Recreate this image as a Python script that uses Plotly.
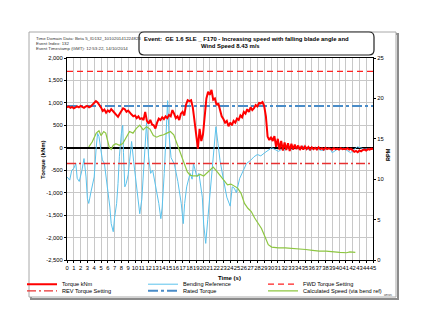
import plotly.graph_objects as go

# ---------------- data ----------------
torque_t = [0.0,0.25,0.5,0.75,1.0,1.25,1.5,1.75,2.0,2.25,2.5,2.75,3.0,3.25,3.5,3.75,4.0,4.25,4.5,4.75,
            5.0,5.25,5.5,5.75,6.0,6.25,6.5,6.75,7.0,7.25,7.5,7.75,8.0,8.25,8.5,8.75,9.0,9.25,9.5,9.75,
            10.0,10.25,10.5,10.75,11.0,11.25,11.5,11.75,12.0,12.25,12.5,12.75,13.0,13.25,13.5,13.75,14.0,14.25,14.5,14.75,
            15.0,15.25,15.5,15.75,16.0,16.25,16.5,16.75,17.0,17.25,17.5,17.75,18.0,18.25,18.5,18.75,19.0,19.25,19.5,19.75,
            20.0,20.25,20.5,20.75,21.0,21.25,21.5,21.75,22.0,22.25,22.5,22.75,23.0,23.25,23.5,23.75,24.0,24.25,24.5,24.75,
            25.0,25.25,25.5,25.75,26.0,26.25,26.5,26.75,27.0,27.25,27.5,27.75,28.0,28.25,28.5,28.75,29.0,29.25,29.5,29.75,
            30.0,30.25,30.5,30.75,31.0,31.25,31.5,31.75,32.0,32.25,32.5,32.75,33.0,33.25,33.5,33.75,34.0,34.25,34.5,34.75,
            35.0,35.25,35.5,35.75,36.0,36.25,36.5,36.75,37.0,37.25,37.5,37.75,38.0,38.25,38.5,38.75,39.0,39.25,39.5,39.75,
            40.0,40.25,40.5,40.75,41.0,41.25,41.5,41.75,42.0,42.25,42.5,42.75,43.0,43.25,43.5,43.75,44.0,44.25,44.5,44.75,45.0]
torque_knm = [900,920,890,910,880,905,920,900,930,910,890,920,930,900,920,960,1000,1040,1010,960,
              900,820,850,780,830,800,860,820,780,740,690,760,820,880,860,800,830,770,740,700,
              720,660,700,640,660,620,800,600,540,620,520,500,430,560,650,620,680,640,700,660,
              730,700,840,760,660,700,620,760,800,720,960,1060,1040,1060,900,600,300,-20,420,150,
              300,700,1100,1250,1180,1290,1070,1100,950,990,840,700,640,560,600,480,560,500,600,560,
              650,620,720,680,800,760,860,800,900,840,880,950,920,1000,990,1020,930,700,250,170,
              240,150,260,20,200,-40,150,-60,120,-50,100,-70,90,-40,70,-30,50,-50,40,-40,
              30,-30,20,-40,10,-30,0,-40,10,-30,-10,-40,0,-30,-10,-20,-40,-10,-30,-20,
              -40,-10,-30,-20,-30,-10,-40,-20,-50,-90,-70,-100,-60,-80,-50,-40,-60,-30,-40,-20,-30]

bend_t = [0.0,0.4,0.7,1.0,1.3,1.5,1.8,2.2,2.5,2.8,3.0,3.2,3.5,3.7,4.0,4.3,4.5,4.7,5.0,5.2,
          5.5,5.7,6.0,6.3,6.5,6.8,7.0,7.3,7.5,7.7,8.0,8.2,8.3,8.5,8.7,9.0,9.2,9.5,9.8,10.2,
          10.5,10.7,11.0,11.2,11.5,11.7,12.0,12.3,12.6,13.0,13.5,13.8,14.0,14.3,14.5,14.8,15.0,15.3,15.8,16.3,
          16.8,17.1,17.3,17.6,18.1,18.4,18.6,19.1,19.4,19.9,20.1,20.4,20.7,21.0,21.3,21.6,21.9,22.2,22.5,23.0,
          23.5,24.0,24.3,24.6,24.9,25.4,25.9,26.4,27.0,27.5,28.0,28.5,29.0,29.6,30.1,30.6,31.1,31.6,32.1,32.6,
          33.1,33.6,34.1,34.7,35.2,35.7,36.2,36.7,37.2,37.7,38.2,38.7,39.0,39.4,39.7,40.2,40.7,41.2,41.7,42.2,
          42.7,43.2,43.7,44.2,44.7,45.0]
bend_ref = [-650,-720,-500,-460,-350,-680,-750,-500,-240,-650,-1130,-1240,-1000,-870,-650,20,320,250,-20,-270,
            -350,-570,-870,-1320,-1690,-1870,-1550,-1240,-800,-200,320,500,-100,-870,-800,-600,-300,140,-300,-870,
            -1320,-1470,-1150,-600,140,560,-200,-570,-500,-820,-1240,-1580,-1320,-570,250,1050,300,-220,-370,-750,
            -1240,-1690,-1240,-870,-570,-700,-350,-650,-570,-1100,-1700,-2130,-1600,-1100,-500,0,470,100,-280,-700,
            -1100,-1300,-870,-900,-1000,-680,-500,-350,-280,-200,-150,-180,-120,-60,0,-40,-80,-30,-50,0,
            -40,20,-30,40,-20,-60,-20,-10,-50,-60,-20,-10,-110,-60,-40,-20,-10,-60,-110,-40,
            20,0,-30,-20,-10,-20]

speed_t = [3.2,3.7,4.3,4.7,5.0,5.4,5.7,6.2,6.5,6.8,7.2,7.7,8.2,8.7,9.2,9.7,10.2,10.7,11.2,11.7,
           12.2,12.7,13.2,13.7,14.2,14.7,15.2,15.7,16.2,16.7,17.2,17.7,18.1,18.6,19.1,19.6,20.1,20.6,21.1,21.5,
           22.1,22.6,23.1,23.6,24.1,24.6,25.1,25.6,26.1,26.6,27.1,27.6,28.1,28.6,29.1,29.6,30.1,31.1,32.1,33.1,
           34.1,35.1,36.1,37.1,38.1,39.1,40.1,41.1,41.6,42.4]
speed_rpm = [14.0,14.6,15.7,16.0,15.4,15.9,15.7,14.0,13.7,14.2,14.4,14.2,14.4,15.2,15.9,15.7,16.3,16.7,16.1,16.5,
             16.2,15.4,15.2,15.4,15.5,15.7,15.9,15.5,14.4,13.2,12.0,10.9,10.5,10.4,10.4,10.6,10.4,10.8,11.3,11.5,
             10.9,10.4,9.9,9.3,9.4,9.2,8.9,8.25,7.0,6.4,6.0,5.2,4.6,3.9,2.9,1.9,1.6,1.5,1.5,1.45,
             1.4,1.3,1.2,1.1,1.1,1.0,0.95,0.9,1.0,0.95]

time_span = [0, 45]
fwd_torque_setting = [1700, 1700]
rev_torque_setting = [-350, -350]
rated_torque = [930, 930]

x_ticks = list(range(0, 46))
y_ticks = list(range(-2500, 2001, 500))
y_tick_labels = [f"{v:,}" for v in y_ticks]
rpm_ticks = [0, 5, 10, 15, 20, 25]

# ---------------- layout helpers (pixel -> paper) ----------------
L, R, T, B = 67, 52, 58, 69
W, H = 425, 329
PW, PH = W - L - R, H - T - B
def px(p):
    return (p - L) / PW
def py(p):
    return (H - B - p) / PH

FONT = "Liberation Sans, Arial, sans-serif"

fig = go.Figure()

fig.add_trace(go.Scatter(x=bend_t, y=bend_ref, mode="lines", name="Bending Reference",
                         line=dict(color="#5BC2EC", width=1), legend="legend2"))
fig.add_trace(go.Scatter(x=speed_t, y=speed_rpm, mode="lines", name="Calculated Speed (via bend ref)",
                         line=dict(color="#8DC641", width=1.2), yaxis="y2", legend="legend6"))
fig.add_trace(go.Scatter(x=time_span, y=fwd_torque_setting, mode="lines", name="FWD Torque Setting",
                         line=dict(color="#FF2020", width=1.3, dash="6px,4px"), legend="legend3"))
fig.add_trace(go.Scatter(x=time_span, y=rev_torque_setting, mode="lines", name="REV Torque Setting",
                         line=dict(color="#E83030", width=1.3, dash="9px,3px,2px,3px"), legend="legend4"))
fig.add_trace(go.Scatter(x=time_span, y=rated_torque, mode="lines", name="Rated Torque",
                         line=dict(color="#4A8CC8", width=2, dash="10px,3px,3px,3px"), legend="legend5"))
fig.add_trace(go.Scatter(x=torque_t, y=torque_knm, mode="lines", name="Torque kNm",
                         line=dict(color="#FF0000", width=2), legend="legend"))

shapes = [
    dict(type="rect", xref="paper", yref="paper", x0=px(31), x1=px(398), y0=py(299), y1=py(34),
         line=dict(color="#8C8C8C", width=2), fillcolor="rgba(0,0,0,0)", layer="below"),
    dict(type="rect", xref="paper", yref="paper", x0=px(29), x1=px(396), y0=py(297), y1=py(32),
         line=dict(color="#A8A8A8", width=1), fillcolor="white", layer="below"),
]
x0, x1, y0, y1 = px(139), px(374), py(55), py(32)
rx, ry = 5 / PW, 5 / PH
path = (f"M {x0+rx},{y1} L {x1-rx},{y1} Q {x1},{y1} {x1},{y1-ry} L {x1},{y0+ry} Q {x1},{y0} {x1-rx},{y0} "
        f"L {x0+rx},{y0} Q {x0},{y0} {x0},{y0+ry} L {x0},{y1-ry} Q {x0},{y1} {x0+rx},{y1} Z")
shapes.append(dict(type="path", xref="paper", yref="paper", path=path,
                   line=dict(color="#222222", width=1.2), fillcolor="white"))

annotations = [
    dict(text="Event:  GE 1.6 SLE _ F170 - Increasing speed with falling blade angle and",
         x=px(142), y=py(39.5), xref="paper", yref="paper", xanchor="left", yanchor="middle",
         showarrow=False, font=dict(family=FONT, size=5.9, color="black", weight="bold")),
    dict(text="Wind Speed 8.43 m/s",
         x=px(199), y=py(46), xref="paper", yref="paper", xanchor="left", yanchor="middle",
         showarrow=False, font=dict(family=FONT, size=5.9, color="black", weight="bold")),
    dict(text="Time Domain Data: Beta 5_ID132_101020141224823",
         x=px(34), y=py(38.5), xref="paper", yref="paper", xanchor="left", yanchor="middle",
         showarrow=False, font=dict(family=FONT, size=4.4, color="#333")),
    dict(text="Event Index: 132",
         x=px(34), y=py(43.5), xref="paper", yref="paper", xanchor="left", yanchor="middle",
         showarrow=False, font=dict(family=FONT, size=4.4, color="#333")),
    dict(text="Event Timestamp (GMT): 12:53:22, 14/10/2014",
         x=px(34), y=py(49), xref="paper", yref="paper", xanchor="left", yanchor="middle",
         showarrow=False, font=dict(family=FONT, size=4.4, color="#333")),
    dict(text="Time (s)", x=px(229), y=py(277.5), xref="paper", yref="paper",
         xanchor="center", yanchor="middle", showarrow=False,
         font=dict(family=FONT, size=6, color="black", weight="bold")),
    dict(text="Torque (kNm)", x=px(43), y=py(160), xref="paper", yref="paper", textangle=-90,
         xanchor="center", yanchor="middle", showarrow=False,
         font=dict(family=FONT, size=6, color="black", weight="bold")),
    dict(text="RPM", x=px(388), y=py(155), xref="paper", yref="paper", textangle=-90,
         xanchor="center", yanchor="middle", showarrow=False,
         font=dict(family=FONT, size=5.5, color="black", weight="bold")),
    dict(text="amsec", x=px(388), y=py(295.2), xref="paper", yref="paper",
         xanchor="center", yanchor="middle", showarrow=False,
         font=dict(family=FONT, size=2.8, color="#444")),
]

legend_common = dict(orientation="v", bgcolor="rgba(0,0,0,0)", borderwidth=0, itemwidth=30,
                     font=dict(family=FONT, size=5.6, color="black"),
                     xanchor="left", yanchor="top", tracegroupgap=0)
ROW1, ROW2 = py(269.7), py(276.3)
COL1, COL2, COL3 = px(22), px(143), px(263)

fig.update_layout(
    width=W, height=H,
    margin=dict(l=L, r=R, t=T, b=B, pad=0, autoexpand=False),
    paper_bgcolor="white", plot_bgcolor="white",
    font=dict(family=FONT, size=6, color="black"),
    showlegend=True,
    legend=dict(**legend_common, x=COL1, y=ROW1),
    legend2=dict(**legend_common, x=COL2, y=ROW1),
    legend3=dict(**legend_common, x=COL3, y=ROW1),
    legend4=dict(**legend_common, x=COL1, y=ROW2),
    legend5=dict(**legend_common, x=COL2, y=ROW2),
    legend6=dict(**legend_common, x=COL3, y=ROW2),
    xaxis=dict(range=[0, 45], tickmode="array", tickvals=x_ticks, ticktext=[str(v) for v in x_ticks],
               tickangle=0, showgrid=True, gridcolor="#C8C8C8", gridwidth=1,
               showline=True, linecolor="black", linewidth=1.2, mirror=True,
               ticks="outside", ticklen=2, tickcolor="black", zeroline=False,
               tickfont=dict(family=FONT, size=5.8, color="black")),
    yaxis=dict(range=[-2500, 2000], tickmode="array", tickvals=y_ticks, ticktext=y_tick_labels,
               showgrid=True, gridcolor="#C8C8C8", gridwidth=1,
               showline=True, linecolor="black", linewidth=1.2, mirror=True,
               ticks="outside", ticklen=2, tickcolor="black",
               zeroline=True, zerolinecolor="black", zerolinewidth=1.5,
               tickfont=dict(family=FONT, size=5.8, color="black")),
    yaxis2=dict(range=[0, 25], tickmode="array", tickvals=rpm_ticks, overlaying="y", side="right",
                showgrid=False, zeroline=False, showline=True, linecolor="black", linewidth=1.2,
                ticks="outside", ticklen=2, tickcolor="black",
                tickfont=dict(family=FONT, size=5.8, color="black")),
    shapes=shapes,
    annotations=annotations,
)

fig.write_html("out.html")
